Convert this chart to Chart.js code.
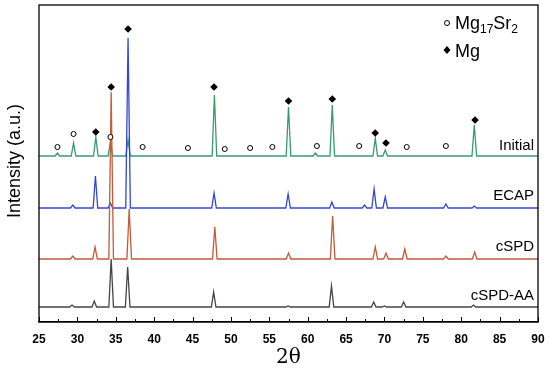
<!DOCTYPE html>
<html>
<head>
<meta charset="utf-8">
<script src="https://cdn.jsdelivr.net/npm/chart.js@4.4.1/dist/chart.umd.min.js"></script>
<style>
  html, body { margin: 0; padding: 0; background: #fff; overflow: hidden; }
  #wrap { width: 550px; height: 368px; position: relative; }
  canvas { display: block; }
</style>
</head>
<body>
<div id="wrap"><canvas id="xrdChart"></canvas></div>
<script>
// x axis ticks (2θ)
const xTicks = [25, 30, 35, 40, 45, 50, 55, 60, 65, 70, 75, 80, 85, 90];

// stacked patterns: baseline level and peaks as [2θ, top] (arbitrary units)
const initialBase = 166;
const initialPeaks = [[27.4, 169], [29.5, 179], [32.4, 185], [34.3, 180], [36.6, 182], [47.85, 227],
  [57.5, 215], [61.0, 169], [63.2, 217], [68.8, 184], [70.1, 172], [81.7, 197]];

const ecapBase = 114;
const ecapPeaks = [[29.4, 117], [32.35, 146], [34.3, 119], [36.6, 284], [47.8, 129], [57.45, 128],
  [63.15, 120], [67.4, 117], [68.65, 133], [70.1, 125], [78.0, 118], [81.7, 116]];

const cspdBase = 63;
const cspdPeaks = [[29.4, 66], [32.3, 75], [34.4, 230], [36.75, 113], [47.9, 95], [57.5, 69],
  [63.25, 106], [68.8, 75], [70.2, 69], [72.65, 73], [78.0, 66], [81.75, 70]];

const cspdAABase = 15;
const cspdAAPeaks = [[29.3, 17], [32.2, 21], [34.4, 63], [36.55, 55], [47.75, 30], [57.45, 16],
  [63.1, 36], [68.6, 20], [70.0, 16], [72.5, 20], [81.6, 17]];

// phase markers
const mg17sr2Marks = [[27.4, 175], [29.5, 188], [34.3, 185], [38.5, 175], [44.4, 174], [49.2, 173],
  [52.5, 174], [55.4, 175], [61.2, 176], [66.7, 176], [72.9, 175], [78.0, 176]];
const mgMarks = [[32.4, 190], [34.4, 235], [36.6, 293], [47.8, 235], [57.5, 221], [63.2, 223],
  [68.8, 189], [70.2, 179], [81.8, 202]];

const seriesNames = ["Initial", "ECAP", "cSPD", "cSPD-AA"];

// turn a peak list into a line trace (peak top with feet on the baseline)
function trace(base, peaks) {
  const pts = [{ x: 25, y: base }];
  peaks.forEach(p => {
    pts.push({ x: p[0] - 0.3, y: base });
    pts.push({ x: p[0], y: p[1] });
    pts.push({ x: p[0] + 0.3, y: base });
  });
  pts.push({ x: 90, y: base });
  return pts;
}

function toPoints(arr) {
  return arr.map(p => ({ x: p[0], y: p[1] }));
}

const lineStyle = { showLine: true, pointRadius: 0, borderWidth: 1.3, tension: 0, fill: false };

const extras = {
  id: "extras",
  afterDraw(chart) {
    const ctx = chart.ctx;
    const a = chart.chartArea;
    const xs = chart.scales.x;
    ctx.save();
    // frame
    ctx.strokeStyle = "#000";
    ctx.lineWidth = 1.3;
    ctx.strokeRect(a.left, a.top, a.right - a.left, a.bottom - a.top);
    // inward ticks
    ctx.lineWidth = 1;
    for (let v = 25; v <= 90; v += 2.5) {
      const px = Math.round(xs.getPixelForValue(v)) + 0.5;
      const len = (v % 5 === 0) ? 5 : 3;
      ctx.beginPath();
      ctx.moveTo(px, a.bottom);
      ctx.lineTo(px, a.bottom - len);
      ctx.stroke();
    }
    ctx.fillStyle = "#000";
    // axis titles
    ctx.font = "20px 'DejaVu Serif', 'Liberation Serif', serif";
    ctx.textAlign = "center";
    ctx.textBaseline = "alphabetic";
    ctx.fillText("2θ", (a.left + a.right) / 2, 363);
    ctx.save();
    ctx.translate(20, 161);
    ctx.rotate(-Math.PI / 2);
    ctx.font = "18px 'Liberation Sans', Arial, sans-serif";
    ctx.fillText("Intensity (a.u.)", 0, 0);
    ctx.restore();
    // series names
    ctx.font = "15px 'Liberation Sans', Arial, sans-serif";
    ctx.textAlign = "right";
    const ys = [150, 200, 251, 300];
    seriesNames.forEach((n, i) => ctx.fillText(n, 534, ys[i]));
    // legend
    ctx.textAlign = "left";
    ctx.lineWidth = 1;
    ctx.beginPath();
    ctx.arc(447, 23, 2.5, 0, Math.PI * 2);
    ctx.stroke();
    ctx.font = "18px 'Liberation Sans', Arial, sans-serif";
    let x = 455;
    ctx.fillText("Mg", x, 29);
    x += ctx.measureText("Mg").width;
    ctx.font = "12px 'Liberation Sans', Arial, sans-serif";
    ctx.fillText("17", x, 33);
    x += ctx.measureText("17").width;
    ctx.font = "18px 'Liberation Sans', Arial, sans-serif";
    ctx.fillText("Sr", x, 29);
    x += ctx.measureText("Sr").width;
    ctx.font = "12px 'Liberation Sans', Arial, sans-serif";
    ctx.fillText("2", x, 33);
    ctx.beginPath();
    ctx.moveTo(447, 46);
    ctx.lineTo(450.5, 50);
    ctx.lineTo(447, 54);
    ctx.lineTo(443.5, 50);
    ctx.closePath();
    ctx.fill();
    ctx.font = "18px 'Liberation Sans', Arial, sans-serif";
    ctx.fillText("Mg", 455, 57);
    ctx.restore();
  }
};

new Chart(document.getElementById("xrdChart"), {
  type: "scatter",
  data: {
    datasets: [
      { label: "Mg17Sr2", data: toPoints(mg17sr2Marks), pointStyle: "circle", pointRadius: 2.5,
        pointBackgroundColor: "#fff", pointBorderColor: "#000", pointBorderWidth: 1, showLine: false, order: 0 },
      { label: "Mg", data: toPoints(mgMarks), pointStyle: "rectRot", pointRadius: 3.8,
        pointBackgroundColor: "#000", pointBorderColor: "#000", pointBorderWidth: 0, showLine: false, order: 0 },
      { label: "cSPD-AA", data: trace(cspdAABase, cspdAAPeaks), borderColor: "#454545", ...lineStyle, order: 1 },
      { label: "cSPD", data: trace(cspdBase, cspdPeaks), borderColor: "#c25a3c", ...lineStyle, order: 2 },
      { label: "ECAP", data: trace(ecapBase, ecapPeaks), borderColor: "#3347d6", ...lineStyle, order: 3 },
      { label: "Initial", data: trace(initialBase, initialPeaks), borderColor: "#3a9a74", ...lineStyle, order: 4 }
    ]
  },
  options: {
    responsive: true,
    maintainAspectRatio: false,
    animation: false,
    layout: { padding: { left: 39, right: 12, top: 5, bottom: 0 } },
    plugins: { legend: { display: false }, tooltip: { enabled: false } },
    scales: {
      x: {
        type: "linear",
        min: 25,
        max: 90,
        afterBuildTicks: s => { s.ticks = xTicks.map(v => ({ value: v })); },
        afterFit: s => { s.height = 46; s.paddingLeft = 0; s.paddingRight = 0; },
        grid: { display: false, drawTicks: false },
        border: { display: true, color: "#000", width: 1.3 },
        ticks: { padding: 10, color: "#000", maxRotation: 0, autoSkip: false,
          font: { family: "'Liberation Sans', Arial, sans-serif", size: 12, weight: "bold" } }
      },
      y: {
        display: false,
        min: 0,
        max: 317
      }
    }
  },
  plugins: [extras]
});
</script>
</body>
</html>
